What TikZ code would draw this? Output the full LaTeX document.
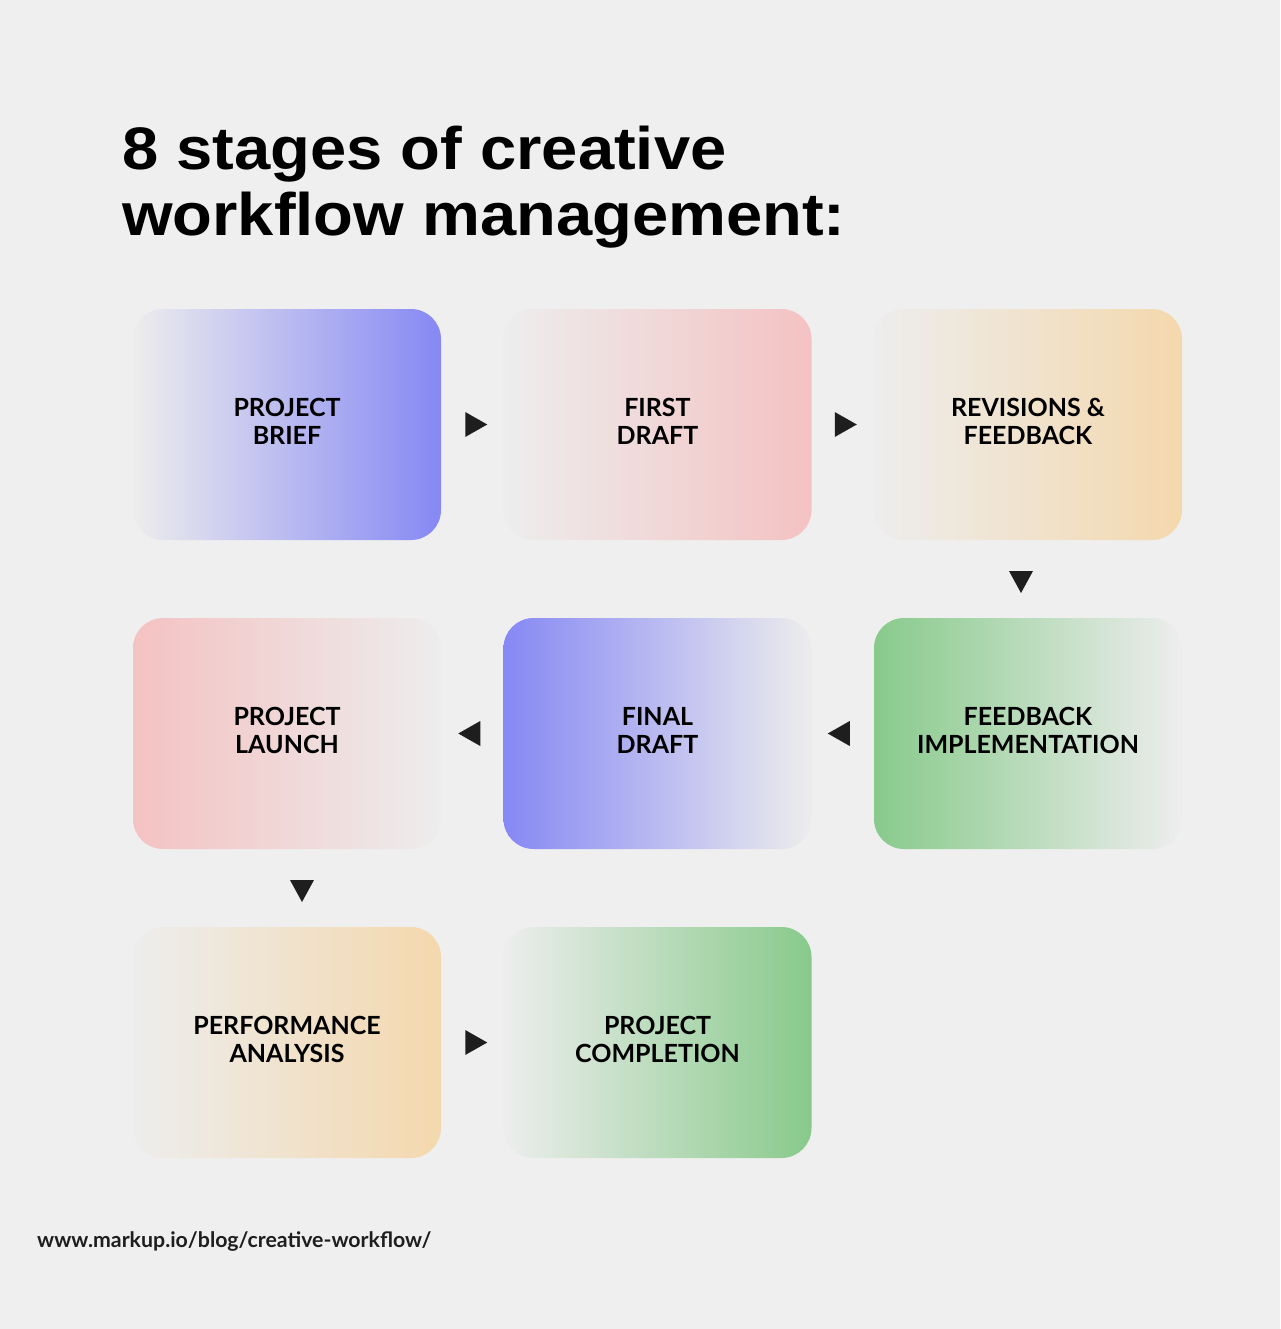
\documentclass[tikz,border=0pt]{standalone}
\usepackage{fontspec}
\setmainfont{Lato}
\newfontfamily\titlefont{Liberation Sans}
\usetikzlibrary{calc}
\definecolor{bg}{HTML}{EFEFEF}
\definecolor{boxbg}{HTML}{EDEDED}
\definecolor{cblue}{HTML}{8688F4}
\definecolor{cpink}{HTML}{F4C2C2}
\definecolor{corange}{HTML}{F4D8AD}
\definecolor{cgreen}{HTML}{88CA8B}
\definecolor{trifill}{HTML}{1E1E1E}
\begin{document}
\begin{tikzpicture}[x=1pt,y=-1pt,
  stage/.style={minimum width=308pt, minimum height=231pt, rounded corners=30pt,
    align=center, inner sep=0pt, text=black, text depth=6pt,
    font=\fontsize{25}{28}\selectfont\bfseries},
  toR/.style={stage, left color=boxbg, middle color=#1!30!boxbg, right color=#1},
  toL/.style={stage, left color=#1, middle color=#1!30!boxbg, right color=boxbg},
  title/.style={anchor=base west, inner sep=0pt, font=\fontsize{60}{66}\titlefont\bfseries},
  arrR/.pic={\fill[trifill] (-11,-12.5) -- (11,0) -- (-11,12.5) -- cycle;},
  arrL/.pic={\fill[trifill] (11,-12.5) -- (-11,0) -- (11,12.5) -- cycle;},
  arrD/.pic={\fill[trifill] (-12,-11) -- (12,-11) -- (0,11) -- cycle;}]
\fill[bg] (0,0) rectangle (1280,1329);
\useasboundingbox (0,0) rectangle (1280,1329);

\node[title] (t1) at (122,170) {\scalebox{1.085}[1]{8 stages of creative}};
\node[title] (t2) at (122,236) {\scalebox{1.085}[1]{workflow management:}};

\node[toR=cblue] (s1) at (287,424.5) {PROJECT\\BRIEF};
\node[toR=cpink] (s2) at (657.5,424.5) {FIRST\\DRAFT};
\node[toR=corange] (s3) at (1028,424.5) {REVISIONS \&\\FEEDBACK};
\node[toL=cgreen] (s4) at (1028,733.5) {FEEDBACK\\IMPLEMENTATION};
\node[toL=cblue] (s5) at (657.5,733.5) {FINAL\\DRAFT};
\node[toL=cpink] (s6) at (287,733.5) {PROJECT\\LAUNCH};
\node[toR=corange] (s7) at (287,1042.5) {PERFORMANCE\\ANALYSIS};
\node[toR=cgreen] (s8) at (657.5,1042.5) {PROJECT\\COMPLETION};

\pic at ($(s1.east)!0.5!(s2.west)+(4,0)$) {arrR};
\pic at ($(s2.east)!0.5!(s3.west)+(3,0)$) {arrR};
\pic at ($(s3.south)!0.5!(s4.north)+(-7,3)$) {arrD};
\pic at ($(s4.west)!0.5!(s5.east)+(-4,0)$) {arrL};
\pic at ($(s5.west)!0.5!(s6.east)+(-3,0)$) {arrL};
\pic at ($(s6.south)!0.5!(s7.north)+(15,3)$) {arrD};
\pic at ($(s7.east)!0.5!(s8.west)+(4,0)$) {arrR};

\node[anchor=base west, inner sep=0pt, font=\fontsize{21.3}{24}\selectfont\bfseries, text={rgb,255:red,30;green,30;blue,30}] (url) at (37,1247) {www.markup.io/blog/creative-workflow/};
\end{tikzpicture}
\end{document}
